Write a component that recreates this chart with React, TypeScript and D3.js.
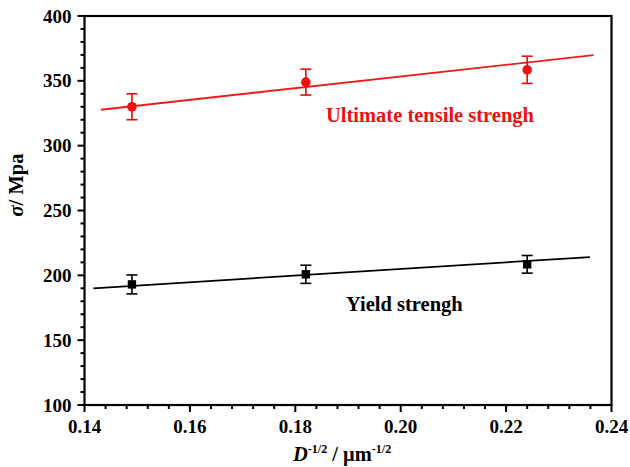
import React from "react";
import * as d3 from "d3";

const xValues = [0.149, 0.182, 0.224];
const utsValues = [330, 349, 358.5];
const utsErrors = [10, 10, 10.5];
const ysValues = [193, 200.8, 208.5];
const ysErrors = [7.3, 7, 6.8];
const utsFit = [[0.1431, 327.7], [0.2366, 369.9]];
const ysFit = [[0.1417, 190], [0.2359, 214.1]];
const xTicks = [0.14, 0.16, 0.18, 0.2, 0.22, 0.24];
const yTicks = [100, 150, 200, 250, 300, 350, 400];

const W = 630, H = 467;
const M = { left: 84.5, right: 611.5, top: 16, bottom: 405 };
const FONT = "Liberation Serif, DejaVu Serif, Times New Roman, serif";

export default function App() {
  const x = d3.scaleLinear().domain([0.14, 0.24]).range([M.left, M.right]);
  const y = d3.scaleLinear().domain([100, 400]).range([M.bottom, M.top]);
  const line = d3.line<number[]>().x(d => x(d[0])).y(d => y(d[1]));
  const xMinor = d3.range(0.14, 0.2401, 0.004).filter(v => !xTicks.some(t => Math.abs(t - v) < 1e-6));
  const yMinor = d3.range(100, 401, 10).filter(v => v % 50 !== 0);
  const ts = { fontFamily: FONT, fontWeight: "bold" as const, fontSize: "19px" };
  const ann = { fontFamily: FONT, fontWeight: "bold" as const, fontSize: "20.5px" };

  return (
    <svg width={W} height={H} style={{ position: "absolute", left: 0, top: 0, background: "#fff" }}>
      <rect x={0} y={0} width={W} height={H} fill="#fff" />
      <path d={line(utsFit as number[][]) || ""} stroke="#ee1c1c" strokeWidth={1.8} fill="none" />
      <path d={line(ysFit as number[][]) || ""} stroke="#000" strokeWidth={1.8} fill="none" />
      {xValues.map((xv, i) => {
        const cx = x(xv);
        const top = y(utsValues[i] + utsErrors[i]);
        const bot = y(utsValues[i] - utsErrors[i]);
        return (
          <g key={"u" + i} stroke="#e01010" strokeWidth={1.6}>
            <line x1={cx} x2={cx} y1={top} y2={bot} />
            <line x1={cx - 5.5} x2={cx + 5.5} y1={top} y2={top} />
            <line x1={cx - 5.5} x2={cx + 5.5} y1={bot} y2={bot} />
            <circle cx={cx} cy={y(utsValues[i])} r={4.8} fill="#ee1111" stroke="none" />
          </g>
        );
      })}
      {xValues.map((xv, i) => {
        const cx = x(xv);
        const top = y(ysValues[i] + ysErrors[i]);
        const bot = y(ysValues[i] - ysErrors[i]);
        return (
          <g key={"y" + i} stroke="#000" strokeWidth={1.6}>
            <line x1={cx} x2={cx} y1={top} y2={bot} />
            <line x1={cx - 5.5} x2={cx + 5.5} y1={top} y2={top} />
            <line x1={cx - 5.5} x2={cx + 5.5} y1={bot} y2={bot} />
            <rect x={cx - 4.2} y={y(ysValues[i]) - 4.2} width={8.4} height={8.4} fill="#000" stroke="none" />
          </g>
        );
      })}
      <rect x={M.left} y={M.top} width={M.right - M.left} height={M.bottom - M.top} fill="none" stroke="#000" strokeWidth={2.2} />
      {xTicks.map(t => (
        <g key={"xt" + t}>
          <line x1={x(t)} x2={x(t)} y1={M.bottom} y2={M.bottom + 7} stroke="#000" strokeWidth={2} />
          <text x={x(t)} y={M.bottom + 28} textAnchor="middle" style={ts}>{t.toFixed(2)}</text>
        </g>
      ))}
      {xMinor.map(t => (
        <line key={"xm" + t} x1={x(t)} x2={x(t)} y1={M.bottom} y2={M.bottom + 4} stroke="#000" strokeWidth={2} />
      ))}
      {yTicks.map(t => (
        <g key={"yt" + t}>
          <line x1={M.left - 7} x2={M.left} y1={y(t)} y2={y(t)} stroke="#000" strokeWidth={2} />
          <text x={M.left - 13} y={y(t) + 6.5} textAnchor="end" style={ts}>{t}</text>
        </g>
      ))}
      {yMinor.map(t => (
        <line key={"ym" + t} x1={M.left - 4} x2={M.left} y1={y(t)} y2={y(t)} stroke="#000" strokeWidth={2} />
      ))}
      <text x={326} y={122} style={{ ...ann, fill: "#ee1111" }}>Ultimate tensile strengh</text>
      <text x={346} y={311} style={ann}>Yield strengh</text>
      <text transform={`translate(23, 185) rotate(-90)`} textAnchor="middle" style={ann}>
        <tspan style={{ fontStyle: "italic" }}>σ</tspan>/ Mpa
      </text>
      <text x={293} y={461} style={ann}>
        <tspan style={{ fontStyle: "italic" }}>D</tspan>
        <tspan dy={-8} style={{ fontSize: "12px" }}>-1/2</tspan>
        <tspan dy={8}> / μm</tspan>
        <tspan dy={-8} style={{ fontSize: "12px" }}>-1/2</tspan>
      </text>
    </svg>
  );
}
